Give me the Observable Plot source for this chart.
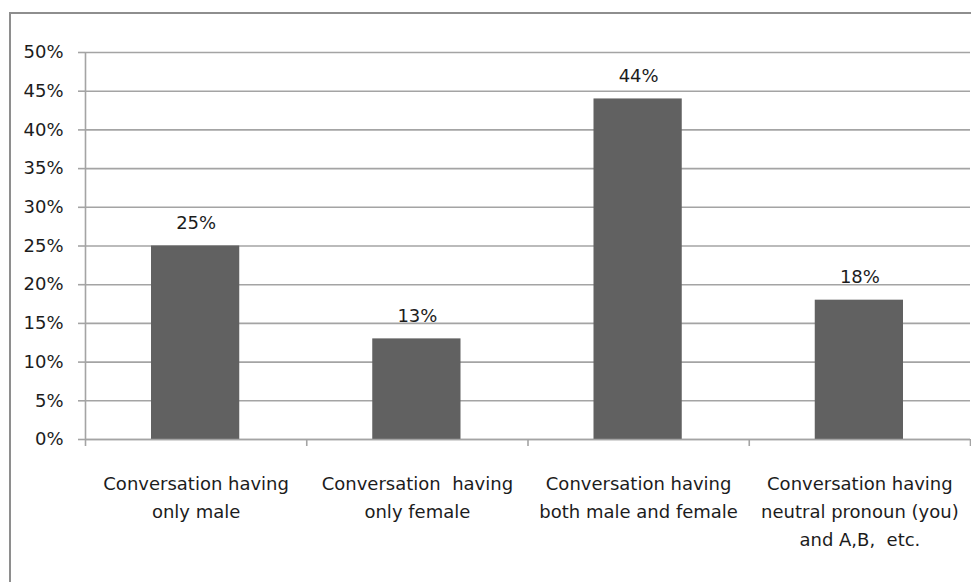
<!DOCTYPE html>
<html>
<head>
<meta charset="utf-8">
<script src="https://cdn.jsdelivr.net/npm/d3@7"></script>
<script src="https://cdn.jsdelivr.net/npm/@observablehq/plot@0.6"></script>
<style>
  html, body { margin: 0; padding: 0; background: #fff; }
  #wrap { position: relative; width: 971px; height: 582px; overflow: hidden; }
  #frame { position: absolute; left: 9px; top: 12px; width: 1000px; height: 620px;
           border-left: 2px solid #8e8e8e; border-top: 2px solid #8e8e8e; pointer-events: none; }
  #chart { position: absolute; left: 0; top: 0; }
</style>
</head>
<body>
<div id="wrap"><div id="chart"></div><div id="frame"></div></div>
<script>
const categories = [
  "Conversation having\nonly male",
  "Conversation  having\nonly female",
  "Conversation having\nboth male and female",
  "Conversation having\nneutral pronoun (you)\nand A,B,  etc."
];
const values = [0.25, 0.13, 0.44, 0.18];
const valueLabels = ["25%", "13%", "44%", "18%"];
const yTicks = [0, 0.05, 0.10, 0.15, 0.20, 0.25, 0.30, 0.35, 0.40, 0.45, 0.50];

const data = categories.map((c, i) => ({i, cat: c, value: values[i], label: valueLabels[i]}));
const bounds = d3.range(categories.length + 1);

const font = "DejaVu Sans, sans-serif";
const chart = Plot.plot({
  width: 971,
  height: 582,
  marginLeft: 85,
  marginRight: 1,
  marginTop: 52,
  marginBottom: 143,
  style: {fontFamily: font, fontSize: "18px", color: "#1c1c1c", background: "transparent"},
  x: {type: "linear", domain: [0, categories.length], axis: null},
  y: {type: "linear", domain: [0, 0.5], axis: null, label: null},
  marks: [
    Plot.gridY(yTicks, {stroke: "#a4a4a4", strokeOpacity: 1, strokeWidth: 1.6}),
    Plot.axisY(yTicks, {
      tickSize: 7, tickPadding: 15, stroke: "#a4a4a4", strokeWidth: 1.6, label: null,
      tickFormat: d => Math.round(d * 100) + "%", fontSize: 18, fill: "#1c1c1c"
    }),
    Plot.rectY(data, {
      x1: d => d.i, x2: d => d.i + 1, y1: 0, y2: "value",
      insetLeft: 66, insetRight: 67, fill: "#616161"
    }),
    Plot.ruleX([0], {y1: 0, y2: 0.5, stroke: "#a4a4a4", strokeWidth: 1.6}),
    Plot.ruleY([0], {stroke: "#a4a4a4", strokeWidth: 1.6}),
    Plot.ruleX(bounds, {x: d => d, y1: 0, y2: 0, insetBottom: -7, stroke: "#a4a4a4", strokeWidth: 1.6}),
    Plot.text(data, {
      x: d => d.i + 0.5, y: "value", text: "label", dy: -23,
      fontSize: 18, fill: "#1c1c1c"
    }),
    Plot.text(data, {
      x: d => d.i + 0.5, y: 0, text: "cat", lineAnchor: "top", dy: 31,
      lineHeight: 1.55, fontSize: 18, fill: "#1c1c1c"
    })
  ]
});
document.getElementById("chart").appendChild(chart);
</script>
</body>
</html>
